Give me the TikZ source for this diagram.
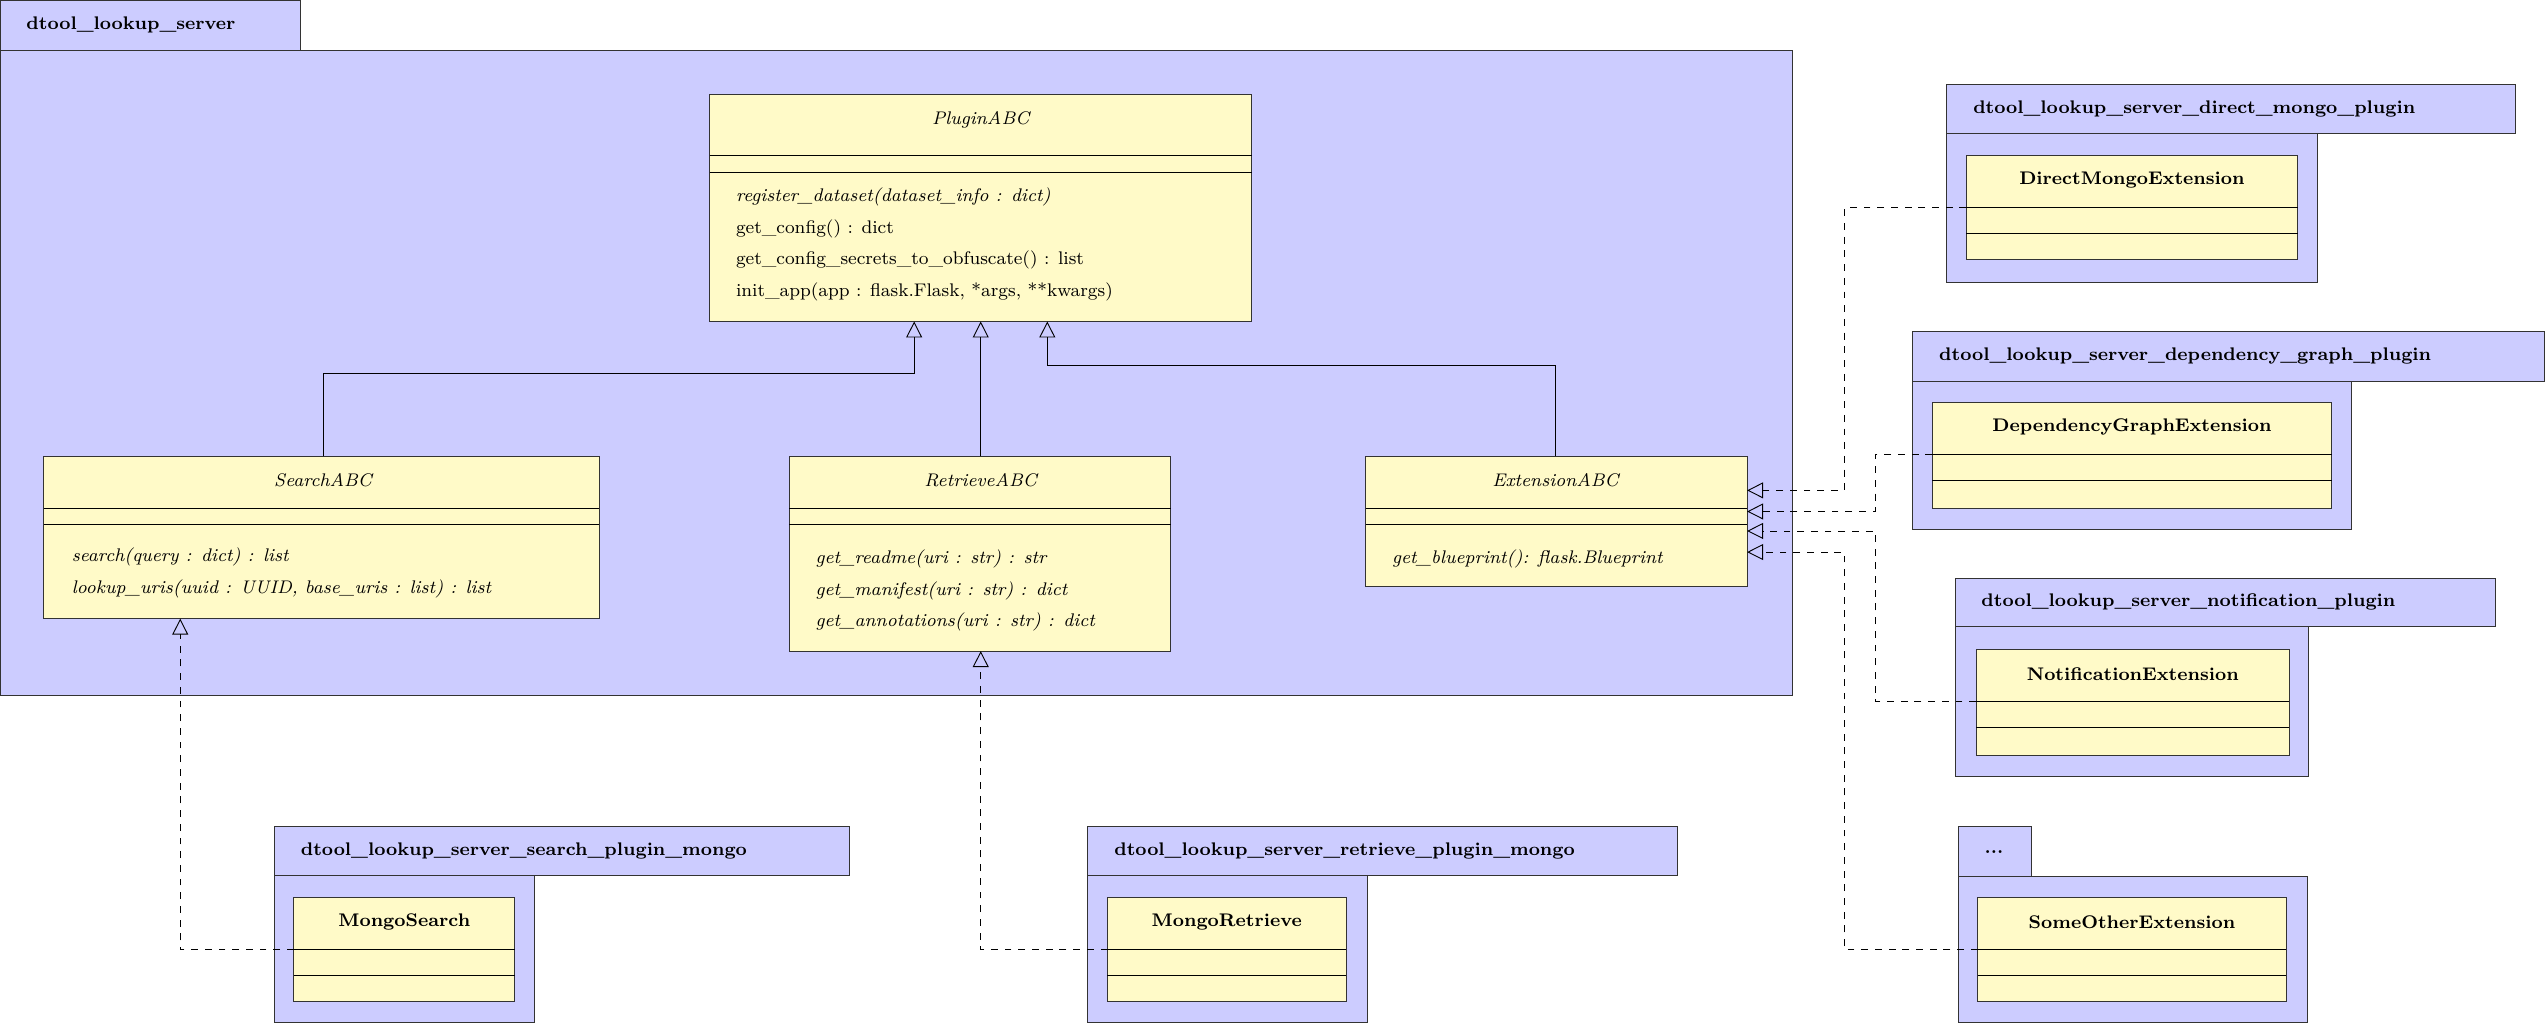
\documentclass[tikz,border=0pt]{standalone}
\usetikzlibrary{arrows.meta}
\definecolor{pkgfill}{RGB}{204,204,255}
\definecolor{clsfill}{RGB}{255,250,200}
\tikzset{
  pkg/.style={draw=black!80, fill=pkgfill},
  cls/.style={draw=black!80, fill=clsfill},
  pkgname/.style={anchor=west, font=\footnotesize\bfseries, inner sep=0pt},
  clsname/.style={font=\footnotesize, inner sep=0pt},
  member/.style={anchor=west, font=\footnotesize, inner sep=0pt},
  inherit/.style={-{Triangle[open,length=7pt,width=7pt]}},
  realize/.style={dashed, -{Triangle[open,length=7pt,width=7pt]}}
}
% package: tab box, body box, name
\newcommand{\umlpkg}[7]{%
  \draw[pkg] (#1,#2) rectangle (#3,#4);
  \draw[pkg] (#1,#4) rectangle (#5,#6);
  \node[pkgname] at (#1+16,{(#2+#4)/2}) {#7};}
% concrete class with two empty compartments
\newcommand{\umlcls}[6]{%
  \draw[cls] (#1,#2) rectangle (#3,#4);
  \draw (#1,#2+32) -- (#3,#2+32) (#1,#2+48) -- (#3,#2+48);
  \node[clsname, font=\footnotesize\bfseries] (#5) at ({(#1+#3)/2},#2+15) {#6};}
\begin{document}
\begin{tikzpicture}[x=0.025cm, y=-0.025cm]
\useasboundingbox (0,0) rectangle (1568,631);

% main package
\umlpkg{0}{0}{185}{31}{1104}{428}{dtool\_lookup\_server}

% PluginABC
\draw[cls] (437,58) rectangle (771,198);
\draw (437,96) -- (771,96) (437,106) -- (771,106);
\node[clsname, font=\footnotesize\itshape] (plugin) at (604,74) {PluginABC};
\node[member] at (453,121) {\textit{register\_dataset(dataset\_info : dict)}};
\node[member] at (453,141) {get\_config() : dict};
\node[member] at (453,160) {get\_config\_secrets\_to\_obfuscate() : list};
\node[member] at (453,180) {init\_app(app : flask.Flask, *args, **kwargs)};
\coordinate (pluginL) at (563,198);
\coordinate (pluginM) at (604,198);
\coordinate (pluginR) at (645,198);

% SearchABC
\draw[cls] (27,281) rectangle (369,381);
\draw (27,313) -- (369,313) (27,323) -- (369,323);
\node[clsname, font=\footnotesize\itshape] (search) at (199,296) {SearchABC};
\node[member] at (44,343) {\textit{search(query : dict) : list}};
\node[member] at (44,363) {\textit{lookup\_uris(uuid : UUID, base\_uris : list) : list}};
\coordinate (searchT) at (199,281);
\coordinate (searchB) at (111,381);

% RetrieveABC
\draw[cls] (486,281) rectangle (721,401);
\draw (486,313) -- (721,313) (486,323) -- (721,323);
\node[clsname, font=\footnotesize\itshape] (retrieve) at (604,296) {RetrieveABC};
\node[member] at (502,344) {\textit{get\_readme(uri : str) : str}};
\node[member] at (502,364) {\textit{get\_manifest(uri : str) : dict}};
\node[member] at (502,383) {\textit{get\_annotations(uri : str) : dict}};
\coordinate (retrieveT) at (604,281);
\coordinate (retrieveB) at (604,401);

% ExtensionABC
\draw[cls] (841,281) rectangle (1076,361);
\draw (841,313) -- (1076,313) (841,323) -- (1076,323);
\node[clsname, font=\footnotesize\itshape] (extension) at (958,296) {ExtensionABC};
\node[member] at (857,344) {\textit{get\_blueprint(): flask.Blueprint}};
\coordinate (extensionT) at (958,281);
\foreach \i/\y in {1/302,2/315,3/327,4/340}
  \coordinate (ext\i) at (1076,\y);

\draw[inherit] (searchT) |- (363,230) -| (pluginL);
\draw[inherit] (retrieveT) -- (pluginM);
\draw[inherit] (extensionT) |- (800,225) -| (pluginR);

% plugin packages
\umlpkg{1199}{52}{1549}{82}{1427}{174}{dtool\_lookup\_server\_direct\_mongo\_plugin}
\umlcls{1211}{96}{1415}{160}{direct}{DirectMongoExtension}
\umlpkg{1178}{204}{1567}{235}{1448}{326}{dtool\_lookup\_server\_dependency\_graph\_plugin}
\umlcls{1190}{248}{1436}{313}{depgraph}{DependencyGraphExtension}
\umlpkg{1204}{356}{1537}{386}{1422}{478}{dtool\_lookup\_server\_notification\_plugin}
\umlcls{1217}{400}{1410}{465}{notify}{NotificationExtension}
\umlpkg{1206}{509}{1251}{540}{1421}{630}{...}
\umlcls{1218}{553}{1408}{617}{other}{SomeOtherExtension}
\umlpkg{169}{509}{523}{539}{329}{630}{dtool\_lookup\_server\_search\_plugin\_mongo}
\umlcls{181}{553}{317}{617}{msearch}{MongoSearch}
\umlpkg{670}{509}{1033}{539}{842}{630}{dtool\_lookup\_server\_retrieve\_plugin\_mongo}
\umlcls{682}{553}{829}{617}{mretrieve}{MongoRetrieve}

% realizations
\draw[realize] (181,585) -| (searchB);
\draw[realize] (682,585) -| (retrieveB);
\draw[realize] (1211,128) -- (1136,128) |- (ext1);
\draw[realize] (1190,280) -- (1155,280) |- (ext2);
\draw[realize] (1217,432) -- (1155,432) |- (ext3);
\draw[realize] (1218,585) -- (1136,585) |- (ext4);
\end{tikzpicture}
\end{document}
